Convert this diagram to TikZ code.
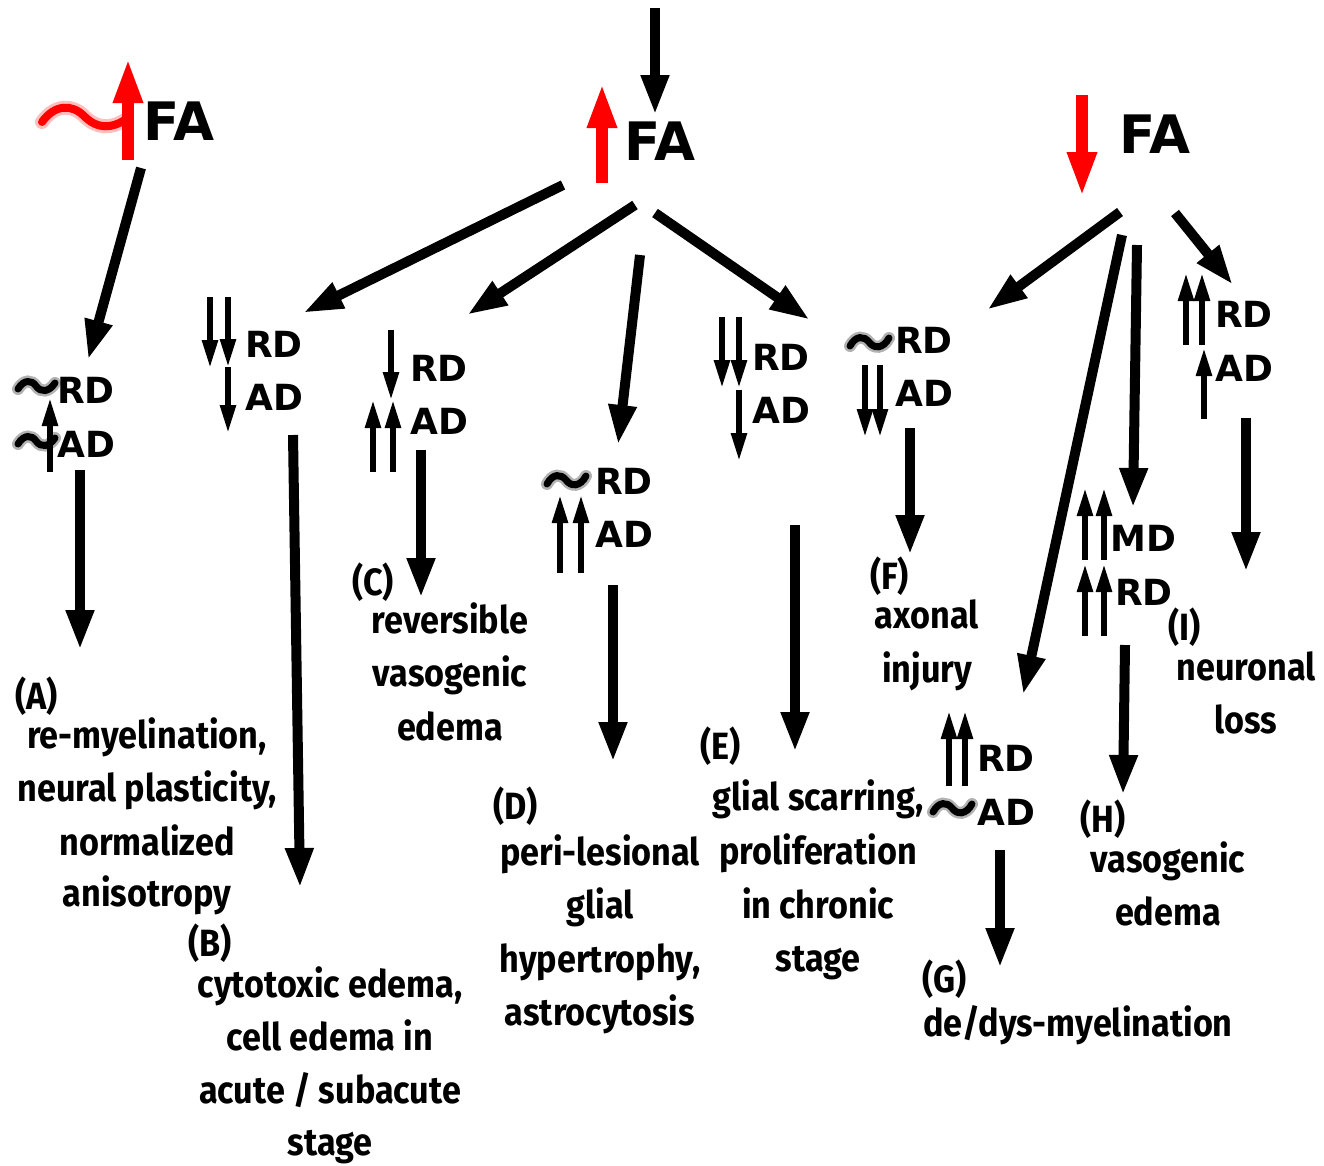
\documentclass[tikz,border=0pt]{standalone}
\usepackage{fontspec}
\usetikzlibrary{arrows.meta}
\newfontfamily\descfont{Fira Sans}[FakeStretch=0.9]
\newfontfamily\lblfont{DejaVu Sans}
\begin{document}
\begin{tikzpicture}[x=1pt,y=-1pt,
  bigarr/.style={line width=10pt,-{Triangle[length=40pt,width=26pt]}},
  redarr/.style={red,line width=12pt,-{Triangle[length=45pt,width=27pt]}},
  smallarr/.style={line width=5.5pt,-{Triangle[length=28pt,width=15pt]}},
  lbl/.style={font=\lblfont\bfseries\fontsize{36}{40}\selectfont,anchor=base west,inner sep=0pt},
  falbl/.style={font=\lblfont\bfseries\fontsize{53}{60}\selectfont,anchor=base west,inner sep=0pt},
  desc/.style={font=\descfont\bfseries\fontsize{38}{54}\selectfont,anchor=base,inner sep=0pt},
  tag/.style={font=\descfont\bfseries\fontsize{38}{54}\selectfont,anchor=base west,inner sep=0pt},
  tildeblur/.style={line width=12pt,opacity=0.3,line cap=round},
  tildecore/.style={line width=7pt,line cap=round},
]
\useasboundingbox (0,0) rectangle (1324,1165);

% ---------- FA headers ----------
\node[falbl] (FAl) at (143,140) {FA};
\node[falbl] (FAm) at (624,160) {FA};
\node[falbl] (FAr) at (1119,153) {FA};

% red arrows
\coordinate (rl0) at (128,160); \coordinate (rl1) at (128,58);
\draw[redarr] (rl0) -- (rl1);
\coordinate (rm0) at (602,183); \coordinate (rm1) at (602,83);
\draw[redarr] (rm0) -- (rm1);
\coordinate (rr0) at (1082,95); \coordinate (rr1) at (1082,197);
\draw[redarr] (rr0) -- (rr1);
% red tilde
\draw[red,line width=14pt,opacity=0.25,line cap=round] (42,122) .. controls (55,104) and (72,104) .. (84,116) .. controls (98,130) and (112,128) .. (125,120);
\draw[red,line width=8pt,line cap=round] (42,122) .. controls (55,104) and (72,104) .. (84,116) .. controls (98,130) and (112,128) .. (125,120);

% top arrow
\coordinate (top0) at (655,8); \coordinate (top1) at (655,115);
\draw[bigarr] (top0) -- (top1);

% ---------- big arrows from FA ----------
\coordinate (s1) at (141,168); \coordinate (e1) at (88,360);
\draw[bigarr] (s1) -- (e1);
\coordinate (s2) at (563,185); \coordinate (e2) at (303,313);
\draw[bigarr] (s2) -- (e2);
\coordinate (s3) at (635,205); \coordinate (e3) at (467,315);
\draw[bigarr] (s3) -- (e3);
\coordinate (s4) at (640,255); \coordinate (e4) at (618,445);
\draw[bigarr] (s4) -- (e4);
\coordinate (s5) at (655,213); \coordinate (e5) at (810,320);
\draw[bigarr] (s5) -- (e5);
\coordinate (s6) at (1120,212); \coordinate (e6) at (987,310);
\draw[bigarr] (s6) -- (e6);
\coordinate (s7) at (1122,235); \coordinate (e7) at (1023,695);
\draw[bigarr] (s7) -- (e7);
\coordinate (s8) at (1137,245); \coordinate (e8) at (1133,508);
\draw[bigarr] (s8) -- (e8);
\coordinate (s9) at (1175,213); \coordinate (e9) at (1233,285);
\draw[bigarr] (s9) -- (e9);

% ---------- vertical arrows to outcomes ----------
\coordinate (vA0) at (80,470);   \coordinate (vA1) at (80,650);
\coordinate (vB0) at (293,435);  \coordinate (vB1) at (300,888);
\coordinate (vC0) at (421,450);  \coordinate (vC1) at (421,598);
\coordinate (vD0) at (613,585);  \coordinate (vD1) at (613,762);
\coordinate (vE0) at (795,525);  \coordinate (vE1) at (795,752);
\coordinate (vF0) at (910,428);  \coordinate (vF1) at (910,555);
\coordinate (vG0) at (1000,850); \coordinate (vG1) at (1000,968);
\coordinate (vH0) at (1125,645); \coordinate (vH1) at (1123,795);
\coordinate (vI0) at (1246,418); \coordinate (vI1) at (1246,572);
\foreach \k in {A,B,C,D,E,F,G,H,I} {\draw[bigarr] (v\k0) -- (v\k1);}

% ---------- group A ----------
\node[lbl] (ARD) at (57,403) {RD};
\node[lbl] (AAD) at (57,457) {AD};
\foreach \y in {386,441} {
  \draw[tildeblur] (18,\y+3) .. controls (24,\y-7) and (32,\y-6) .. (36,\y) .. controls (41,\y+7) and (49,\y+6) .. (55,\y-3);
  \draw[tildecore] (18,\y+3) .. controls (24,\y-7) and (32,\y-6) .. (36,\y) .. controls (41,\y+7) and (49,\y+6) .. (55,\y-3);
}
\coordinate (aA0) at (50,472); \coordinate (aA1) at (50,398);
\draw[smallarr] (aA0) -- (aA1);

% ---------- group B ----------
\node[lbl] (BRD) at (245,357) {RD};
\node[lbl] (BAD) at (245,410) {AD};
\coordinate (b10) at (210,297); \coordinate (b11) at (210,368);
\coordinate (b20) at (228,297); \coordinate (b21) at (228,367);
\coordinate (b30) at (228,367); \coordinate (b31) at (228,433);
\draw[smallarr] (b10) -- (b11);
\draw[smallarr] (b20) -- (b21);
\draw[smallarr] (b30) -- (b31);

% ---------- group C ----------
\node[lbl] (CRD) at (410,381) {RD};
\node[lbl] (CAD) at (410,434) {AD};
\coordinate (c10) at (391,330); \coordinate (c11) at (391,400);
\coordinate (c20) at (373,472); \coordinate (c21) at (373,400);
\coordinate (c30) at (393,472); \coordinate (c31) at (393,400);
\draw[smallarr] (c10) -- (c11);
\draw[smallarr] (c20) -- (c21);
\draw[smallarr] (c30) -- (c31);

% ---------- group D ----------
\node[lbl] (DRD) at (595,494) {RD};
\node[lbl] (DAD) at (595,547) {AD};
\draw[tildeblur] (547,484) .. controls (553,473) and (561,474) .. (566,480) .. controls (571,487) and (580,487) .. (586,476);
\draw[tildecore] (547,484) .. controls (553,473) and (561,474) .. (566,480) .. controls (571,487) and (580,487) .. (586,476);
\coordinate (d10) at (560,573); \coordinate (d11) at (560,495);
\coordinate (d20) at (581,573); \coordinate (d21) at (581,495);
\draw[smallarr] (d10) -- (d11);
\draw[smallarr] (d20) -- (d21);

% ---------- group E ----------
\node[lbl] (ERD) at (752,370) {RD};
\node[lbl] (EAD) at (752,423) {AD};
\coordinate (e10) at (722,317); \coordinate (e11) at (722,388);
\coordinate (e20) at (739,317); \coordinate (e21) at (739,388);
\coordinate (e30) at (739,390); \coordinate (e31) at (739,461);
\draw[smallarr] (e10) -- (e11);
\draw[smallarr] (e20) -- (e21);
\draw[smallarr] (e30) -- (e31);

% ---------- group F ----------
\node[lbl] (FRD) at (895,353) {RD};
\node[lbl] (FAD) at (895,406) {AD};
\draw[tildeblur] (850,346) .. controls (856,335) and (864,336) .. (869,342) .. controls (874,349) and (883,349) .. (889,338);
\draw[tildecore] (850,346) .. controls (856,335) and (864,336) .. (869,342) .. controls (874,349) and (883,349) .. (889,338);
\coordinate (f10) at (865,365); \coordinate (f11) at (865,437);
\coordinate (f20) at (880,365); \coordinate (f21) at (880,437);
\draw[smallarr] (f10) -- (f11);
\draw[smallarr] (f20) -- (f21);

% ---------- group G ----------
\node[lbl] (GRD) at (977,771) {RD};
\node[lbl] (GAD) at (977,825) {AD};
\draw[tildeblur] (933,812) .. controls (939,801) and (947,802) .. (952,808) .. controls (957,815) and (966,815) .. (972,804);
\draw[tildecore] (933,812) .. controls (939,801) and (947,802) .. (952,808) .. controls (957,815) and (966,815) .. (972,804);
\coordinate (g10) at (949,786); \coordinate (g11) at (949,711);
\coordinate (g20) at (965,786); \coordinate (g21) at (965,711);
\draw[smallarr] (g10) -- (g11);
\draw[smallarr] (g20) -- (g21);

% ---------- group H ----------
\node[lbl] (HMD) at (1110,551) {MD};
\node[lbl] (HRD) at (1115,605) {RD};
\coordinate (h10) at (1085,560); \coordinate (h11) at (1085,488);
\coordinate (h20) at (1104,560); \coordinate (h21) at (1104,488);
\coordinate (h30) at (1085,636); \coordinate (h31) at (1085,564);
\coordinate (h40) at (1104,636); \coordinate (h41) at (1104,564);
\draw[smallarr] (h10) -- (h11);
\draw[smallarr] (h20) -- (h21);
\draw[smallarr] (h30) -- (h31);
\draw[smallarr] (h40) -- (h41);

% ---------- group I ----------
\node[lbl] (IRD) at (1215,327) {RD};
\node[lbl] (IAD) at (1215,381) {AD};
\coordinate (i10) at (1186,345); \coordinate (i11) at (1186,273);
\coordinate (i20) at (1202,345); \coordinate (i21) at (1202,273);
\coordinate (i30) at (1204,419); \coordinate (i31) at (1204,348);
\draw[smallarr] (i10) -- (i11);
\draw[smallarr] (i20) -- (i21);
\draw[smallarr] (i30) -- (i31);

% ---------- outcome texts ----------
\node[tag] (tA) at (15,709) {(A)};
\node[desc] (A1) at (147,748) {re-myelination,};
\node[desc] (A2) at (147,801) {neural plasticity,};
\node[desc] (A3) at (147,855) {normalized};
\node[desc] (A4) at (147,906) {anisotropy};

\node[tag] (tB) at (188,956) {(B)};
\node[desc] (B1) at (330,997) {cytotoxic edema,};
\node[desc] (B2) at (330,1050) {cell edema in};
\node[desc] (B3) at (330,1103) {acute / subacute};
\node[desc] (B4) at (330,1155) {stage};

\node[tag] (tC) at (352,595) {(C)};
\node[desc] (C1) at (450,633) {reversible};
\node[desc] (C2) at (450,686) {vasogenic};
\node[desc] (C3) at (450,740) {edema};

\node[tag] (tD) at (493,819) {(D)};
\node[desc] (D1) at (600,865) {peri-lesional};
\node[desc] (D2) at (600,918) {glial};
\node[desc] (D3) at (600,972) {hypertrophy,};
\node[desc] (D4) at (600,1025) {astrocytosis};

\node[tag] (tE) at (700,759) {(E)};
\node[desc] (E1) at (818,810) {glial scarring,};
\node[desc] (E2) at (818,864) {proliferation};
\node[desc] (E3) at (818,918) {in chronic};
\node[desc] (E4) at (818,971) {stage};

\node[tag] (tF) at (870,589) {(F)};
\node[desc] (F1) at (927,628) {axonal};
\node[desc] (F2) at (927,682) {injury};

\node[tag] (tG) at (922,992) {(G)};
\node[desc] (G1) at (1078,1036) {de/dys-myelination};

\node[tag] (tH) at (1080,832) {(H)};
\node[desc] (H1) at (1168,872) {vasogenic};
\node[desc] (H2) at (1168,925) {edema};

\node[tag] (tI) at (1168,640) {(I)};
\node[desc] (I1) at (1246,680) {neuronal};
\node[desc] (I2) at (1246,733) {loss};
\end{tikzpicture}
\end{document}
